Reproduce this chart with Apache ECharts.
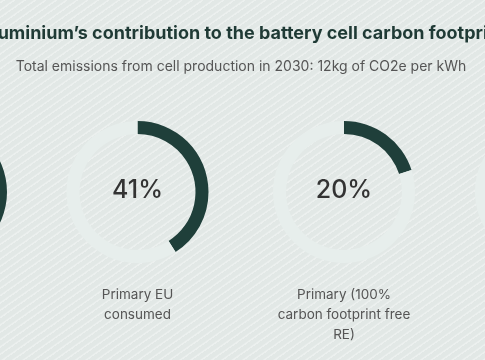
<!DOCTYPE html>
<html>
<head>
<meta charset="utf-8">
<script src="https://cdn.jsdelivr.net/npm/echarts@6/dist/echarts.min.js"></script>
<style>
html,body{margin:0;padding:0;}
body{width:485px;height:360px;overflow:hidden;
background-color:#e2e8e6;
background-image:repeating-linear-gradient(-35deg, rgba(255,255,255,0.35) 0px, rgba(255,255,255,0.35) 1px, rgba(0,0,0,0) 2px, rgba(0,0,0,0) 6px);}
#chart{width:485px;height:360px;}
</style>
</head>
<body>
<div id="chart"></div>
<script>
const titleText = 'Aluminium\u2019s contribution to the battery cell carbon footprint';
const subtitleText = 'Total emissions from cell production in 2030: 12kg of CO2e per kWh';
const categories = ['Primary global\naverage', 'Primary EU\nconsumed', 'Primary (100%\ncarbon footprint free\nRE)', 'Recycled'];
const shares = [60, 41, 20, 5];
const centersX = [-64, 137.5, 344, 546];
const centerY = 192;

const dark = '#1f3f3a';
const light = '#e7eeec';

const series = shares.map((v, i) => ({
  type: 'pie',
  radius: [58, 71],
  center: [centersX[i], centerY],
  startAngle: 90,
  clockwise: true,
  silent: true,
  animation: false,
  avoidLabelOverlap: false,
  label: {show: false},
  labelLine: {show: false},
  emphasis: {disabled: true},
  data: [
    {value: v, name: categories[i], itemStyle: {color: dark},
     label: {show: true, position: 'center', formatter: v + '%',
       fontFamily: 'Inter', fontSize: 25, fontWeight: 500, color: '#333333', offset: [0, -1.5]}},
    {value: 100 - v, name: 'rest', itemStyle: {color: light}}
  ]
}));

const graphics = [
  {type: 'text', x: 242.5, y: 34, silent: true,
   style: {text: titleText, fontFamily: 'Inter', fontSize: 18, fontWeight: 'bold', fill: '#1f3a35', align: 'center', verticalAlign: 'middle'}},
  {type: 'text', x: 241, y: 66.5, silent: true,
   style: {text: subtitleText, fontFamily: 'Inter', fontSize: 14, fontWeight: 'normal', fill: '#555555', align: 'center', verticalAlign: 'middle'}}
].concat(categories.map((c, i) => ({
  type: 'text', x: centersX[i], y: 284.5, silent: true,
  style: {text: c, fontFamily: 'Inter', fontSize: 13.5, fontWeight: 'normal', fill: '#555555', lineHeight: 20, align: 'center', verticalAlign: 'top'}
})));

const chart = echarts.init(document.getElementById('chart'), null, {renderer: 'canvas'});
chart.setOption({
  backgroundColor: 'transparent',
  animation: false,
  graphic: graphics,
  series: series
});
</script>
</body>
</html>
